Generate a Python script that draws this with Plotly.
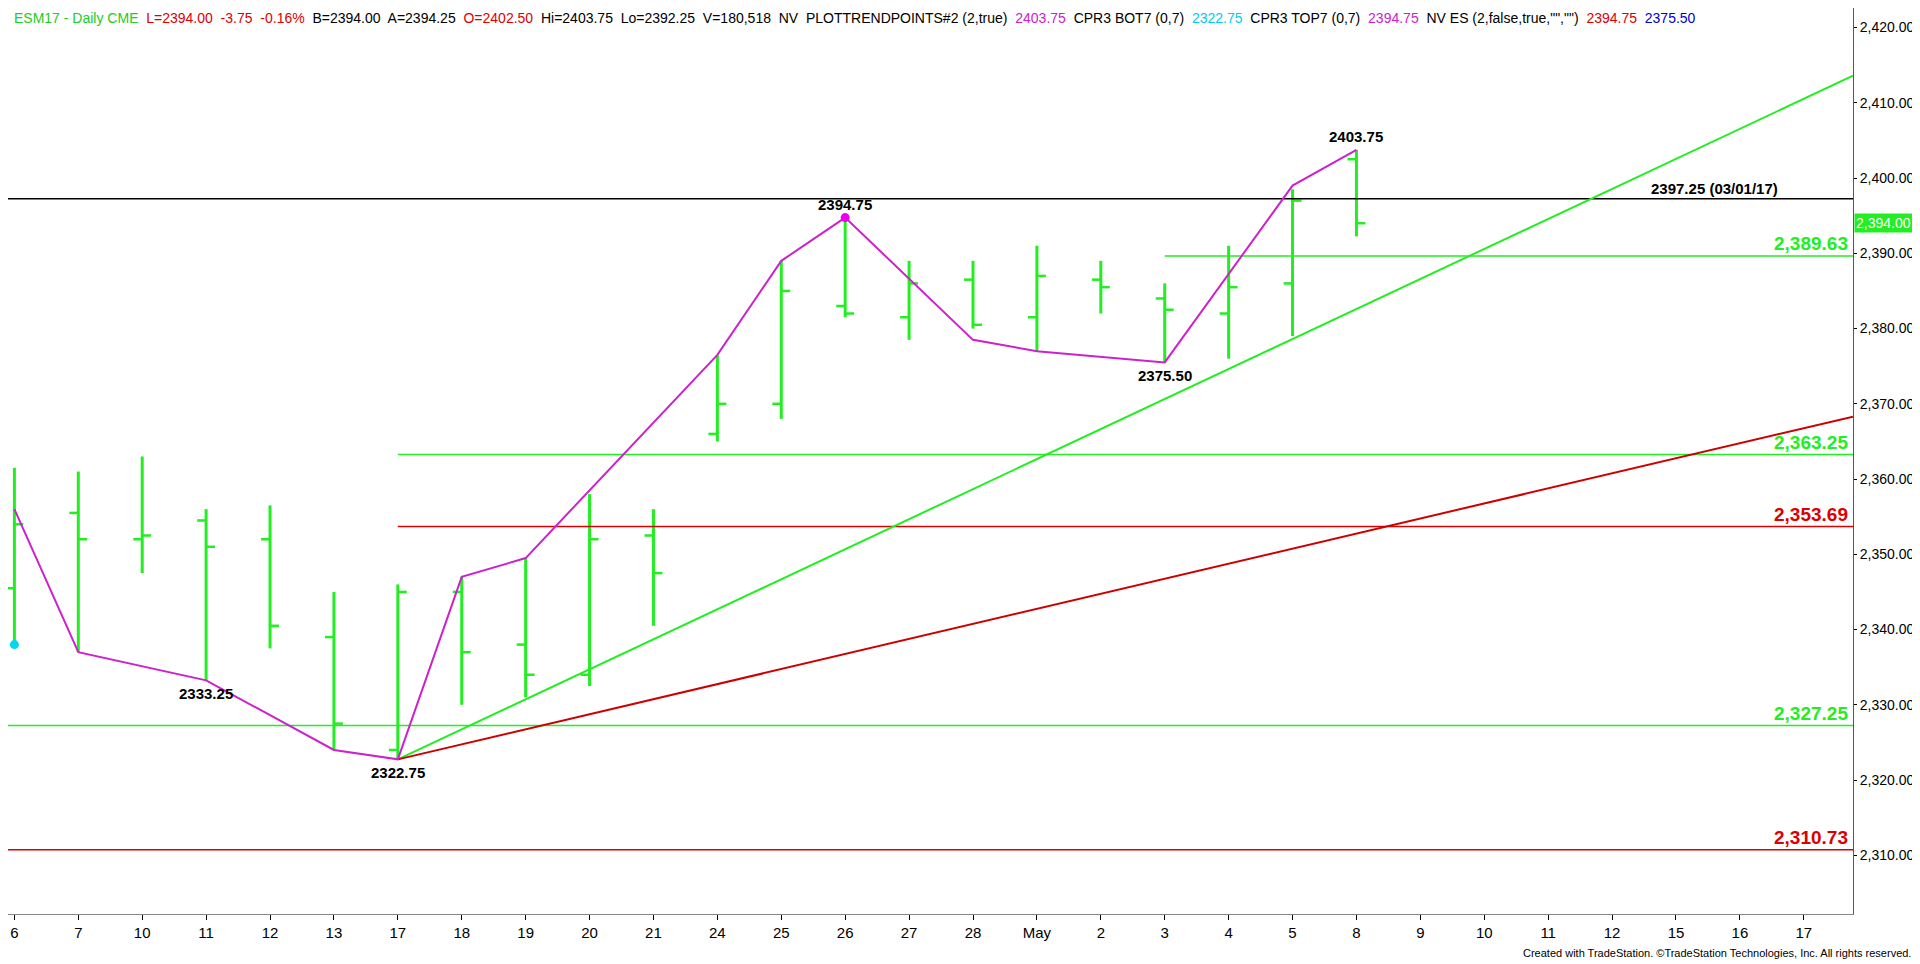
import plotly.graph_objects as go

dates = ["6","7","10","11","12","13","17","18","19","20","21","24","25","26","27","28","May","2","3","4","5","8",
         "9","10","11","12","15","16","17"]
opens  = [2345.5,2355.5,2352,2354.5,2352,2339,2324,2345,2338,2334,2352.5,2366,2370,2383,2381.5,2386.5,2381.5,2386.5,2384,2382,2386,2402.5]
highs  = [2361.5,2361,2363,2356,2356.5,2345,2346,2347,2349.5,2358,2356,2376.5,2389,2394.75,2389,2389,2391,2389,2386,2391,2398.5,2403.75]
lows   = [2338,2337,2347.5,2333.25,2337.5,2324,2322.75,2330,2331,2332.5,2340.5,2365,2368,2381.5,2378.5,2380,2377,2382,2375.5,2376,2379,2392.25]
closes = [2354,2352,2352.5,2351,2340.5,2327.5,2345,2337,2334,2352,2347.5,2370,2385,2382,2386,2380.5,2387,2385.5,2382.5,2385.5,2397,2394]

zz_x = [0,1,3,5,6,7,8,11,12,13,15,16,18,20,21]
zz_y = [2356,2337,2333.25,2324,2322.75,2347,2349.5,2376.5,2389,2394.75,2378.5,2377,2375.5,2399,2403.75]

XMIN, XMAX = -0.1, 28.77
YMIN, YMAX = 2302.2, 2422.6
green_tl = ([6, XMAX], [2322.75, 2413.6])
red_tl = ([6, XMAX], [2322.75, 2368.3])
levels = [  # value, start x, color, label
    (2389.63, 18, "#22ee22", "2,389.63"),
    (2363.25, 6, "#22ee22", "2,363.25"),
    (2353.69, 6, "#dd0000", "2,353.69"),
    (2327.25, XMIN, "#22ee22", "2,327.25"),
    (2310.73, XMIN, "#dd0000", "2,310.73"),
]
G = "#22ee22"
fig = go.Figure()
n = len(opens)
xs = list(range(n))
bx, by, ox, oy, cx, cy = [], [], [], [], [], []
for i in xs:
    bx += [i, i, None]; by += [lows[i], highs[i], None]
    ox += [i-0.14, i, None]; oy += [opens[i], opens[i], None]
    cx += [i, i+0.14, None]; cy += [closes[i], closes[i], None]
fig.add_trace(go.Scatter(x=bx, y=by, mode="lines", line=dict(color=G, width=3), hoverinfo="skip"))
fig.add_trace(go.Scatter(x=ox+cx, y=oy+cy, mode="lines", line=dict(color=G, width=2.5), hoverinfo="skip"))
for val, x0, col, lab in levels:
    fig.add_trace(go.Scatter(x=[x0, XMAX], y=[val, val], mode="lines", line=dict(color=col, width=1.5)))
    fig.add_annotation(x=XMAX-0.05, y=val, text="<b>"+lab+"</b>", showarrow=False, xanchor="right", yanchor="bottom",
                       font=dict(color=col, size=19, family="Arial"))
fig.add_trace(go.Scatter(x=[XMIN, XMAX], y=[2397.25, 2397.25], mode="lines", line=dict(color="black", width=1.5)))
fig.add_annotation(x=26.6, y=2397.25, text="<b>2397.25 (03/01/17)</b>", showarrow=False, yanchor="bottom",
                   font=dict(color="black", size=15, family="Arial"))
fig.add_trace(go.Scatter(x=green_tl[0], y=green_tl[1], mode="lines", line=dict(color=G, width=2)))
fig.add_trace(go.Scatter(x=red_tl[0], y=red_tl[1], mode="lines", line=dict(color="#cc0000", width=2)))
fig.add_trace(go.Scatter(x=zz_x, y=zz_y, mode="lines", line=dict(color="#cc22cc", width=2)))
fig.add_trace(go.Scatter(x=[0], y=[2338], mode="markers", marker=dict(color="#00d8f0", size=9)))
fig.add_trace(go.Scatter(x=[13], y=[2394.75], mode="markers", marker=dict(color="#ee00ee", size=9)))
for xi, yi, t, ya in [(3,2333.25,"2333.25","top"),(6,2322.75,"2322.75","top"),(13,2394.75,"2394.75","bottom"),
                      (18,2375.5,"2375.50","top"),(21,2403.75,"2403.75","bottom")]:
    fig.add_annotation(x=xi, y=yi, text="<b>"+t+"</b>", showarrow=False, yanchor=ya, yshift=-3 if ya=="top" else 3,
                       font=dict(color="black", size=15, family="Arial"))
fig.add_annotation(x=1, xref="paper", y=2394.0, text="2,394.00", showarrow=False, xanchor="left", bgcolor="#22ee22",
                   font=dict(color="white", size=14, family="Arial"), borderpad=1, xshift=1)
def sp(t, c): return f"<span style='color:{c}'>{t}</span>"
hdr = "  ".join([sp("ESM17 - Daily CME", "#22cc22"), sp("L=2394.00  -3.75  -0.16%", "#dd0000"),
                 sp("B=2394.00  A=2394.25", "black"), sp("O=2402.50", "#dd0000"),
                 sp("Hi=2403.75  Lo=2392.25  V=180,518  NV  PLOTTRENDPOINTS#2 (2,true)", "black"),
                 sp("2403.75", "#cc22cc"), sp("CPR3 BOT7 (0,7)", "black"), sp("2322.75", "#00ccee"),
                 sp("CPR3 TOP7 (0,7)", "black"), sp("2394.75", "#cc22cc"),
                 sp('NV ES (2,false,true,"","")', "black"), sp("2394.75", "#dd0000"), sp("2375.50", "#0000cc")])
fig.add_annotation(x=0.002, y=1, xref="paper", yref="paper", text=hdr, showarrow=False, xanchor="left", yanchor="top",
                   font=dict(size=14, family="Arial"), bgcolor="white")
fig.add_annotation(x=1, y=-0.052, xref="paper", yref="paper", xanchor="right", yanchor="bottom", showarrow=False,
                   text="Created with TradeStation. ©TradeStation Technologies, Inc. All rights reserved.",
                   xshift=60, font=dict(size=11, family="Arial", color="black"))
fig.update_layout(width=1920, height=964, margin=dict(l=0, r=75, t=0, b=58), showlegend=False,
                  plot_bgcolor="white", paper_bgcolor="white")
fig.update_xaxes(range=[XMIN, XMAX], tickvals=list(range(len(dates))), ticktext=dates, showgrid=False,
                 ticks="outside", ticklen=5, tickcolor="black", zeroline=False, showline=True, linecolor="#888",
                 tickfont=dict(size=15, family="Arial", color="black"), mirror=False)
fig.update_yaxes(range=[YMIN, YMAX], side="right", tickvals=list(range(2310, 2421, 10)),
                 ticktext=[f"{v:,}.00" for v in range(2310, 2421, 10)], showgrid=False, ticks="outside", ticklen=3,
                 tickcolor="black", zeroline=False, showline=True, linecolor="#aa3333",
                 tickfont=dict(size=14, family="Arial", color="black"))
fig.write_html("out.html")
